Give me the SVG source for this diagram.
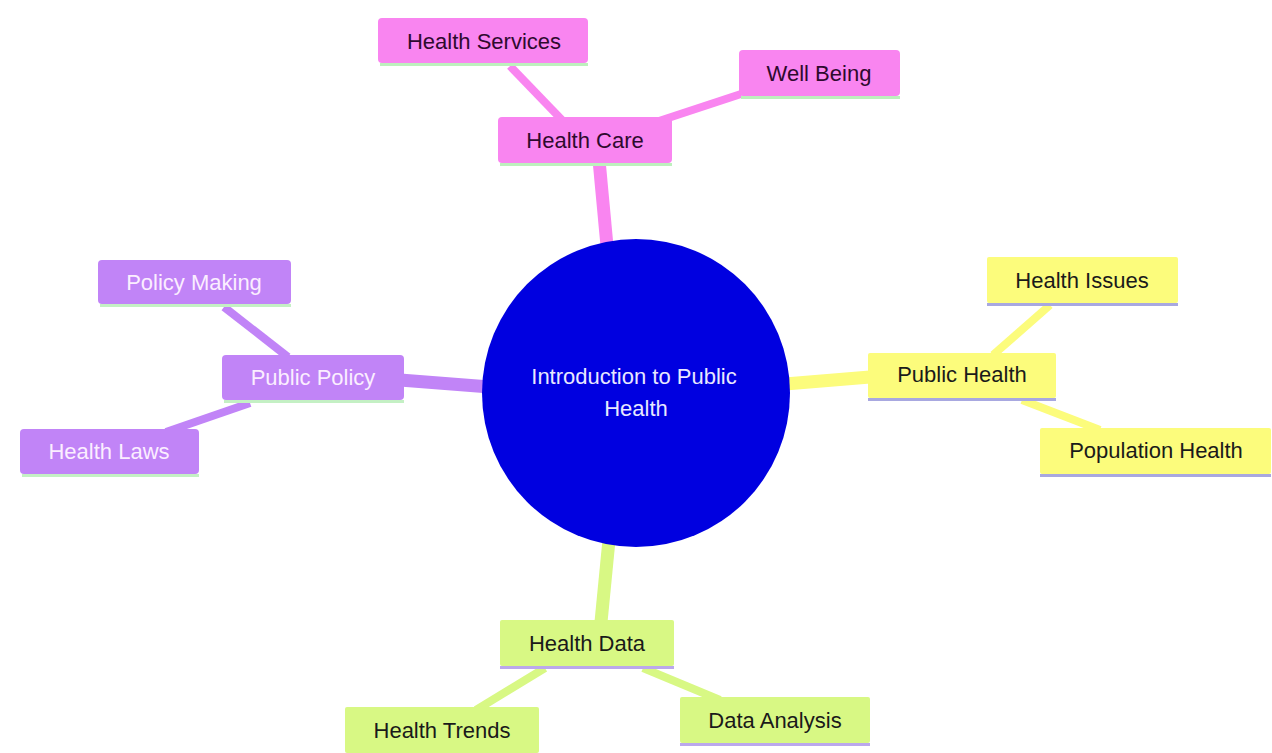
<svg xmlns="http://www.w3.org/2000/svg" width="1272" height="753" viewBox="0 0 1272 753">
<style>
text{font-family:"Liberation Sans",Arial,sans-serif;font-size:22px;text-anchor:middle}
.pink rect{fill:#f985f0}
.pink text{fill:#2e0a2e}
.pink line{stroke:#bdf0bd}
.purple rect{fill:#c184f7}
.purple text{fill:#fbeeff}
.purple line{stroke:#c4f0c4}
.yellow rect{fill:#fcfc7c}
.yellow text{fill:#1a1a1a}
.yellow line{stroke:#a8a8e0}
.green rect{fill:#d8f884}
.green text{fill:#1a1a1a}
.green line{stroke:#bba8ec}
.n line{stroke-width:3}
.e{fill:none;stroke-linecap:butt}
</style>
<rect width="1272" height="753" fill="#ffffff"/>
<g id="connectors">
<line class="e" x1="599" y1="160" x2="607" y2="246" stroke="#f985f0" stroke-width="13"/>
<line class="e" x1="510" y1="66" x2="562" y2="120" stroke="#f985f0" stroke-width="8"/>
<line class="e" x1="741" y1="94" x2="656" y2="122" stroke="#f985f0" stroke-width="8"/>
<line class="e" x1="400" y1="380" x2="490" y2="387" stroke="#c184f7" stroke-width="13"/>
<line class="e" x1="224" y1="307" x2="288" y2="357" stroke="#c184f7" stroke-width="8"/>
<line class="e" x1="250" y1="403" x2="166" y2="432" stroke="#c184f7" stroke-width="8"/>
<line class="e" x1="785" y1="384" x2="870" y2="377" stroke="#fcfc7c" stroke-width="13"/>
<line class="e" x1="1050" y1="305" x2="993" y2="355" stroke="#fcfc7c" stroke-width="8"/>
<line class="e" x1="1022" y1="400" x2="1100" y2="430" stroke="#fcfc7c" stroke-width="8"/>
<line class="e" x1="609" y1="540" x2="601" y2="622" stroke="#d8f884" stroke-width="13"/>
<line class="e" x1="545" y1="668" x2="476" y2="710" stroke="#d8f884" stroke-width="8"/>
<line class="e" x1="643" y1="668" x2="720" y2="700" stroke="#d8f884" stroke-width="8"/>
</g>
<g id="root">
<circle cx="636" cy="393" r="154" fill="#0000e0"/>
<text x="634" y="384" fill="#e8e8ff">Introduction to Public</text>
<text x="636" y="416" fill="#e8e8ff">Health</text>
</g>
<g id="health-care" class="n pink">
<rect x="498" y="117" width="174" height="46" rx="4"/>
<line x1="500" y1="164.5" x2="672" y2="164.5"/>
<text x="585" y="148">Health Care</text>
</g>
<g id="health-services" class="n pink">
<rect x="378" y="18" width="210" height="45" rx="4"/>
<line x1="380" y1="64.5" x2="588" y2="64.5"/>
<text x="484" y="49">Health Services</text>
</g>
<g id="well-being" class="n pink">
<rect x="739" y="50" width="161" height="46" rx="4"/>
<line x1="741" y1="97.5" x2="900" y2="97.5"/>
<text x="819" y="81">Well Being</text>
</g>
<g id="public-policy" class="n purple">
<rect x="222" y="355" width="182" height="45" rx="4"/>
<line x1="224" y1="401.5" x2="404" y2="401.5"/>
<text x="313" y="385">Public Policy</text>
</g>
<g id="policy-making" class="n purple">
<rect x="98" y="260" width="193" height="44" rx="4"/>
<line x1="100" y1="305.5" x2="291" y2="305.5"/>
<text x="194" y="290">Policy Making</text>
</g>
<g id="health-laws" class="n purple">
<rect x="20" y="429" width="179" height="45" rx="4"/>
<line x1="22" y1="475.5" x2="199" y2="475.5"/>
<text x="109" y="459">Health Laws</text>
</g>
<g id="public-health" class="n yellow">
<rect x="868" y="353" width="188" height="45" rx="2"/>
<line x1="868" y1="399.5" x2="1056" y2="399.5"/>
<text x="962" y="382">Public Health</text>
</g>
<g id="health-issues" class="n yellow">
<rect x="987" y="257" width="191" height="46" rx="2"/>
<line x1="987" y1="304.5" x2="1178" y2="304.5"/>
<text x="1082" y="288">Health Issues</text>
</g>
<g id="population-health" class="n yellow">
<rect x="1040" y="428" width="231" height="46" rx="2"/>
<line x1="1040" y1="475.5" x2="1271" y2="475.5"/>
<text x="1156" y="458">Population Health</text>
</g>
<g id="health-data" class="n green">
<rect x="500" y="620" width="174" height="46" rx="2"/>
<line x1="500" y1="667.5" x2="674" y2="667.5"/>
<text x="587" y="651">Health Data</text>
</g>
<g id="health-trends" class="n green">
<rect x="345" y="707" width="194" height="46" rx="2"/>
<text x="442" y="738">Health Trends</text>
</g>
<g id="data-analysis" class="n green">
<rect x="680" y="697" width="190" height="46" rx="2"/>
<line x1="680" y1="744.5" x2="870" y2="744.5"/>
<text x="775" y="728">Data Analysis</text>
</g>
</svg>
